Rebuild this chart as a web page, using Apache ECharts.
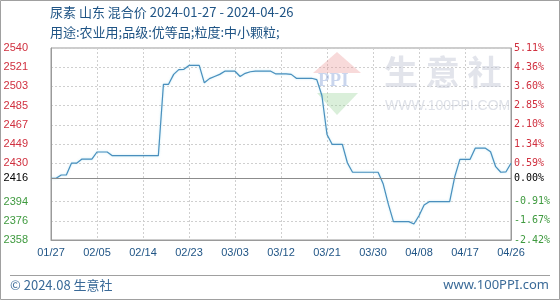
<!DOCTYPE html>
<html><head><meta charset="utf-8">
<script src="https://cdn.jsdelivr.net/npm/echarts@6/dist/echarts.min.js"></script>
<style>html,body{margin:0;padding:0;background:#fff}#c{width:560px;height:300px}</style>
</head><body><div id="c"></div>
<script>
var titleText = '尿素 山东 混合价 2024-01-27 - 2024-04-26';
var subtitleText = '用途:农业用;品级:优等品;粒度:中小颗粒;';
var footerLeft = '© 2024.08 生意社';
var footerRight = 'www.100PPI.com';
var baseValue = 2416.5;
var baseLabel = '2416';
var yMin = 2358, yMax = 2540, yStep = 18.2;
var dates = [
'01/27','01/28','01/29','01/30','01/31','02/01','02/02','02/03','02/04','02/05',
'02/06','02/07','02/08','02/09','02/10','02/11','02/12','02/13','02/14','02/15',
'02/16','02/17','02/18','02/19','02/20','02/21','02/22','02/23','02/24','02/25',
'02/26','02/27','02/28','02/29','03/01','03/02','03/03','03/04','03/05','03/06',
'03/07','03/08','03/09','03/10','03/11','03/12','03/13','03/14','03/15','03/16',
'03/17','03/18','03/19','03/20','03/21','03/22','03/23','03/24','03/25','03/26',
'03/27','03/28','03/29','03/30','03/31','04/01','04/02','04/03','04/04','04/05',
'04/06','04/07','04/08','04/09','04/10','04/11','04/12','04/13','04/14','04/15',
'04/16','04/17','04/18','04/19','04/20','04/21','04/22','04/23','04/24','04/25','04/26'];
var prices = [
2416.5,2416.5,2419.6,2419.6,2430.8,2430.8,2434.6,2434.6,2434.6,2441.4,
2441.4,2441.4,2437.9,2437.9,2437.9,2437.9,2437.9,2437.9,2437.9,2437.9,
2437.9,2437.9,2505.6,2505.6,2515,2519.5,2519.8,2523.5,2523.5,2523.5,
2507,2511,2513,2515,2518,2518,2518,2513,2516,2517.5,
2518,2518,2518,2518,2515.4,2515.4,2515.4,2515,2511.3,2511.3,
2511.3,2511.3,2510,2495,2458,2448.7,2448.7,2448.7,2431,2422.2,
2422.2,2422.2,2422.2,2422.2,2422.2,2411,2392,2375.4,2375.4,2375.4,
2375.4,2373.2,2381,2391.2,2394.3,2394.3,2394.3,2394.3,2394.3,2418,
2434.5,2434.5,2434.5,2445,2445,2445,2441.7,2427.5,2422.2,2422.5,2430.7];

var RED = '#d0303f', GREEN = '#3f9a3f', BLUE = '#1f5485';
function isHidden(v){ return Math.abs(v - (yMin + 3*yStep)) < 0.5; }
function colorOf(v){ v = Number(v); if (Math.abs(v-baseValue) < 0.01) return '#000'; return v > baseValue ? RED : GREEN; }
var splitColors = [];
for (var i = 0; i <= 10; i++) splitColors.push(i === 3 ? 'rgba(0,0,0,0)' : '#cfcfcf');

var chart = echarts.init(document.getElementById('c'), null, {renderer: 'canvas'});
chart.setOption({
  animation: false,
  backgroundColor: '#fff',
  grid: {left: 51, right: 49, top: 48, bottom: 60, show: true, borderColor: '#9a9a9a', borderWidth: 1, backgroundColor: 'transparent'},
  xAxis: {
    type: 'category', data: dates, boundaryGap: false,
    axisLine: {show: true, lineStyle: {color: '#9a9a9a'}},
    axisTick: {show: false},
    axisLabel: {interval: 8, color: BLUE, fontSize: 11, fontFamily: 'Liberation Sans, Arial', margin: 7, showMaxLabel: true},
    splitLine: {show: true, interval: 8, lineStyle: {color: '#cfcfcf', type: [2, 2]}}
  },
  yAxis: [{
    type: 'value', min: yMin, max: yMax, interval: yStep, position: 'left',
    axisLine: {show: true, lineStyle: {color: '#9a9a9a'}},
    axisTick: {show: false},
    axisLabel: {margin: 23, fontSize: 11, fontFamily: 'Liberation Sans, Arial',
      color: function(v){ return colorOf(v); },
      formatter: function(v){ return isHidden(v) ? '' : String(Math.floor(v + 1e-6)); }},
    splitLine: {show: true, lineStyle: {color: splitColors, type: [2, 2]}}
  }, {
    type: 'value', min: yMin, max: yMax, interval: yStep, position: 'right',
    axisLine: {show: true, lineStyle: {color: '#9a9a9a'}},
    axisTick: {show: false},
    axisLabel: {margin: 3, fontSize: 10, fontFamily: 'DejaVu Sans Mono, monospace',
      color: function(v){ return colorOf(v); },
      formatter: function(v){ return isHidden(v) ? '' : ((v - baseValue) / baseValue * 100).toFixed(2) + '%'; }},
    splitLine: {show: false}
  }],
  graphic: [
    {type: 'rect', shape: {x: 0.5, y: 0.5, width: 559, height: 299}, style: {fill: 'none', stroke: '#a0a0a0', lineWidth: 1}, z: 0, silent: true},
    {type: 'text', left: 50, top: 6, style: {text: titleText, fill: BLUE, font: '13px "Noto Sans CJK SC", "Noto Sans", sans-serif'}},
    {type: 'text', left: 50, top: 26, style: {text: subtitleText, fill: BLUE, font: '13px "Noto Sans CJK SC", "Noto Sans", sans-serif'}},
    {type: 'line', shape: {x1: 10, y1: 275.5, x2: 550, y2: 275.5}, style: {stroke: '#a0a0a0', lineWidth: 1}},
    {type: 'text', left: 10, top: 279, style: {text: footerLeft, fill: '#3a6a98', font: '13px "Noto Sans CJK SC", "Noto Sans", sans-serif'}},
    {type: 'text', right: 11, top: 279, style: {text: footerRight, fill: '#3a6a98', font: '13px "Noto Sans", sans-serif'}},
    {type: 'polygon', shape: {points: [[337, 52], [361, 73], [313, 73]]}, style: {fill: 'rgba(235,150,150,0.35)'}, z: 1, silent: true},
    {type: 'text', x: 318, y: 72, style: {text: 'PPI', fill: 'rgba(120,150,210,0.4)', font: 'bold 19px "Liberation Serif", serif'}, z: 1, silent: true},
    {type: 'polygon', shape: {points: [[317, 93], [358, 93], [337, 115]]}, style: {fill: 'rgba(150,210,150,0.35)'}, z: 1, silent: true},
    {type: 'text', x: 384, y: 55, style: {text: '生 意 社', fill: 'rgba(190,195,210,0.45)', font: 'bold 34px "Noto Sans CJK SC", sans-serif'}, z: 1, silent: true},
    {type: 'text', x: 385, y: 99, style: {text: 'WWW.100PPI.COM', fill: 'rgba(190,195,210,0.5)', font: '14px "Liberation Sans", sans-serif'}, z: 1, silent: true}
  ],
  series: [{
    type: 'line', data: prices, yAxisIndex: 0, showSymbol: false, symbol: 'none',
    lineStyle: {color: '#4a8fbd', width: 1.2, shadowColor: 'rgba(120,210,235,0.5)', shadowBlur: 2},
    z: 3,
    markLine: {
      silent: true, symbol: 'none', animation: false,
      lineStyle: {color: '#8c8c8c', type: 'solid', width: 1},
      data: [
        {yAxis: baseValue, label: {position: 'start', distance: 23, formatter: baseLabel, color: '#000', fontSize: 11, fontFamily: 'Liberation Sans, Arial'}},
        {yAxis: baseValue, label: {position: 'end', distance: 3, formatter: '0.00%', color: '#000', fontSize: 10, fontFamily: 'DejaVu Sans Mono, monospace'}}
      ]
    }
  }]
});
</script></body></html>
